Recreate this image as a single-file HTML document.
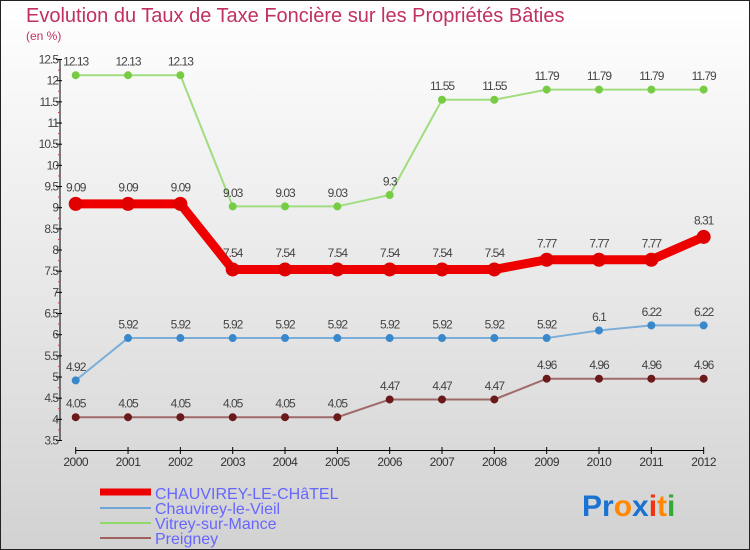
<!DOCTYPE html>
<html><head><meta charset="utf-8"><style>
body{margin:0}
#c{width:750px;height:550px;position:relative;overflow:hidden;font-family:"Liberation Sans",sans-serif}
</style></head><body>
<div id="c">
<svg id="s" width="750" height="550" xmlns="http://www.w3.org/2000/svg">
<defs><linearGradient id="bg" x1="0" y1="0" x2="0" y2="1"><stop offset="0" stop-color="#ffffff"/><stop offset="1" stop-color="#d2d2d2"/></linearGradient></defs>
<rect x="0.5" y="0.5" width="749" height="549" fill="url(#bg)" stroke="#222"/>
<text x="26" y="22" font-size="20" fill="#c03060">Evolution du Taux de Taxe Foncière sur les Propriétés Bâties</text>
<text x="26" y="40" font-size="12" fill="#c03060">(en %)</text>
<g id="axes"></g><g id="series"></g>
<g>
<line x1="100" y1="492" x2="151" y2="492" stroke="#ee0000" stroke-width="7"/>
<text x="155" y="499" font-size="16" fill="#6666ff">CHAUVIREY-LE-CHâTEL</text>
<line x1="100" y1="508" x2="151" y2="508" stroke="#6fa6d6" stroke-width="2"/>
<text x="155" y="514" font-size="16" fill="#6666ff">Chauvirey-le-Vieil</text>
<line x1="100" y1="523" x2="151" y2="523" stroke="#8fd86a" stroke-width="2"/>
<text x="155" y="529" font-size="16" fill="#6666ff">Vitrey-sur-Mance</text>
<line x1="100" y1="538" x2="151" y2="538" stroke="#a06060" stroke-width="2"/>
<text x="155" y="544" font-size="16" fill="#6666ff">Preigney</text>
</g>
<text x="582" y="516" font-size="30" font-weight="bold"><tspan fill="#1a73d0">Pr</tspan><tspan fill="#ff8800">o</tspan><tspan fill="#1a73d0">x</tspan><tspan fill="#ee3311">i</tspan><tspan fill="#ff8800">t</tspan><tspan fill="#33aa33">i</tspan></text>
</svg>
</div>
<script>
const years=[2000,2001,2002,2003,2004,2005,2006,2007,2008,2009,2010,2011,2012];
const yTicks=[3.5,4,4.5,5,5.5,6,6.5,7,7.5,8,8.5,9,9.5,10,10.5,11,11.5,12,12.5];
const chatel=[9.09,9.09,9.09,7.54,7.54,7.54,7.54,7.54,7.54,7.77,7.77,7.77,8.31];
const vieil=[4.92,5.92,5.92,5.92,5.92,5.92,5.92,5.92,5.92,5.92,6.1,6.22,6.22];
const vitrey=[12.13,12.13,12.13,9.03,9.03,9.03,9.3,11.55,11.55,11.79,11.79,11.79,11.79];
const preigney=[4.05,4.05,4.05,4.05,4.05,4.05,4.47,4.47,4.47,4.96,4.96,4.96,4.96];
const NS="http://www.w3.org/2000/svg";
const xS=i=>75.7+i*52.33;
const yS=v=>440.5-(v-3.5)*42.33;
function mk(tag,attrs,parent){const e=document.createElementNS(NS,tag);for(const k in attrs)e.setAttribute(k,attrs[k]);parent.appendChild(e);return e;}
const ax=document.getElementById('axes');
let yl=mk('line',{x1:60,y1:yS(12.5),x2:60,y2:yS(3.5),stroke:'#000'},ax);


yTicks.forEach(v=>{
 const t=mk('line',{x1:56,x2:62,y1:yS(v),y2:yS(v),stroke:'#000'},ax);
 
 
 if(v<12.5){const m=mk('line',{x1:58,x2:60,y1:yS(v+0.25),y2:yS(v+0.25),stroke:'#ee3333'},ax);
 
 }
 const l=mk('text',{x:58,y:yS(v)+4,'font-size':12,'text-anchor':'end',fill:'#444','letter-spacing':'-1'},ax);
 l.textContent=String(v);
 
 
});
let xl=mk('line',{x1:xS(0),y1:450.5,x2:xS(12),y2:450.5,stroke:'#000'},ax);


years.forEach((y,i)=>{
 const t=mk('line',{x1:xS(i),x2:xS(i),y1:447,y2:454,stroke:'#000'},ax);
 
 
 const l=mk('text',{x:xS(i),y:466,'font-size':12,'text-anchor':'middle',fill:'#333','letter-spacing':'-0.5'},ax);
 l.textContent=y;
 
 
});
const sg=document.getElementById('series');
function series(vals,name,color,dark,w,r){
 const g=mk('g',{},sg);
 
 
 const p=mk('polyline',{points:vals.map((v,i)=>xS(i)+','+yS(v)).join(' '),fill:'none',stroke:color,'stroke-width':w},g);
 
 
 vals.forEach((v,i)=>{
  const c=mk('circle',{cx:xS(i),cy:yS(v),r:r,fill:dark,stroke:dark},g);
  
  
  const t=mk('text',{x:xS(i),y:yS(v)-r-6,'font-size':12,'text-anchor':'middle',fill:'#444','letter-spacing':'-1'},g);
  t.textContent=String(v);
  
  
 });
}
series(vitrey,'vitrey-sur-mance','#a0dd80','#77cc44',2,3.5);
series(preigney,'preigney','#a06a6a','#6a1a1a',2,3.5);
series(vieil,'chauvirey-le-vieil','#7aaed8','#3a88cc',2,3.5);
series(chatel,'chauvirey-le-chatel','#ee0000','#e00000',9,6.5);
</script>
</body></html>
